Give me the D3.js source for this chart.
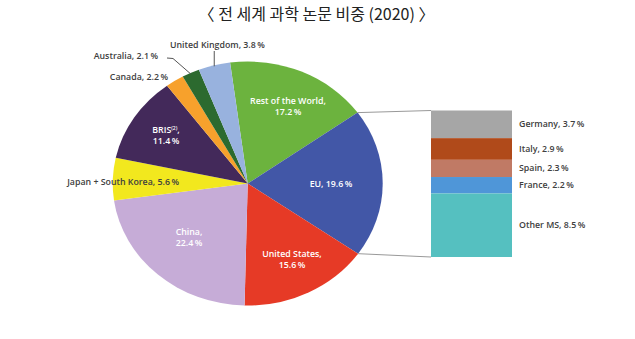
<!DOCTYPE html>
<html><head><meta charset="utf-8">
<script src="https://cdn.jsdelivr.net/npm/d3@7"></script>
<style>
html,body{margin:0;padding:0;background:#fff;}
svg{display:block;}
</style>
</head><body>
<svg id="c" width="635" height="339"></svg>
<script>
const title = "〈 전 세계 과학 논문 비중 (2020) 〉";
const regions = ["Rest of the World", "EU", "United States", "China", "Japan + South Korea", "BRIS", "Canada", "Australia", "United Kingdom"];
const shares = [17.2, 19.6, 15.6, 22.4, 5.6, 11.4, 2.2, 2.1, 3.8];
const regionColors = ["#6cb33e", "#4257a7", "#e63a26", "#c6acd7", "#f2e81e", "#43295a", "#f7a12c", "#2c6a2f", "#98b2de"];
const euMembers = ["Germany", "Italy", "Spain", "France", "Other MS"];
const euShares = [3.7, 2.9, 2.3, 2.2, 8.5];
const euColors = ["#a6a6a6", "#b04a1a", "#c07a65", "#4f96d8", "#55c0c0"];

const svg = d3.select("#c");
const cx = 247.7, cy = 183.5, R = 122, sx = 135 / 122;
const fontLab = "'Open Sans', 'DejaVu Sans', sans-serif";
const fs = 8.8;
const pct = v => v.toFixed(1) + "\u2009%";

svg.append("text").attr("x", 316.5).attr("y", 19.5).attr("text-anchor", "middle")
  .attr("font-family", "'Noto Sans CJK KR', sans-serif").attr("font-size", 16)
  .attr("font-weight", 400).attr("fill", "#222").text(title);

const start = -7.5 * Math.PI / 180;
const pie = d3.pie().sort(null).startAngle(start).endAngle(start + 2 * Math.PI);
const arcs = pie(shares);
const arc = d3.arc().innerRadius(0).outerRadius(R);

const g = svg.append("g").attr("transform", `translate(${cx},${cy}) scale(${sx},1)`);
g.selectAll("path").data(arcs).join("path")
  .attr("d", arc).attr("fill", (d, i) => regionColors[i]);

function edge(a, r = R) { return [cx + sx * r * Math.sin(a), cy - r * Math.cos(a)]; }

// Inset stacked bar for EU
const barX = 431, barW = 81;
const y = d3.scaleLinear().domain([0, d3.sum(euShares)]).range([110.5, 257]);
const cum = d3.cumsum(euShares);
const stackData = euShares.map((v, i) => ({ v, i, y0: i ? cum[i - 1] : 0, y1: cum[i] }));
svg.selectAll("rect.eu").data(stackData).join("rect").attr("class", "eu")
  .attr("x", barX).attr("width", barW)
  .attr("y", d => y(d.y0)).attr("height", d => y(d.y1) - y(d.y0))
  .attr("fill", d => euColors[d.i]);

// connector lines from EU slice
const eu = arcs[1];
const pTop = edge(eu.startAngle), pBot = edge(eu.endAngle);
svg.append("line").attr("x1", pTop[0]).attr("y1", pTop[1]).attr("x2", barX).attr("y2", y(0))
  .attr("stroke", "#999").attr("stroke-width", 1);
svg.append("line").attr("x1", pBot[0]).attr("y1", pBot[1]).attr("x2", barX).attr("y2", y(d3.sum(euShares)))
  .attr("stroke", "#999").attr("stroke-width", 1);

svg.selectAll("text.eul").data(stackData).join("text").attr("class", "eul")
  .attr("x", 519).attr("y", d => (y(d.y0) + y(d.y1)) / 2 + 3)
  .attr("font-family", fontLab).attr("font-size", fs).attr("font-weight", 600)
  .attr("fill", "#404040").text(d => euMembers[d.i] + ", " + pct(d.v));

// leader lines
const ukP = edge((arcs[8].startAngle + arcs[8].endAngle) / 2, R);
svg.append("line").attr("x1", ukP[0]).attr("y1", ukP[1] + 1).attr("x2", ukP[0]).attr("y2", 51)
  .attr("stroke", "#555").attr("stroke-width", 1);
const auP = edge((arcs[7].startAngle + arcs[7].endAngle) / 2, R);
svg.append("polyline").attr("points", `${auP[0]},${auP[1] + 1} 173,58.5 167,58`)
  .attr("fill", "none").attr("stroke", "#555").attr("stroke-width", 1);

function label(lines, x, yy, anchor, color) {
  const t = svg.append("text").attr("x", x).attr("y", yy).attr("text-anchor", anchor)
    .attr("font-family", fontLab).attr("font-size", fs).attr("font-weight", 600).attr("fill", color);
  lines.forEach((l, k) => {
    const ts = t.append("tspan").attr("x", x).attr("dy", k ? 10.5 : 0);
    if (Array.isArray(l)) {
      ts.text(l[0]);
      ts.append("tspan").attr("font-size", 5).attr("dy", -3).text(l[1]);
      ts.append("tspan").attr("dy", 3).text(l[2]);
    } else ts.text(l);
  });
}
// outside labels
label([regions[8] + ", " + pct(shares[8])], 170, 48, "start", "#404040");
label([regions[7] + ", " + pct(shares[7])], 158, 59, "end", "#404040");
label([regions[6] + ", " + pct(shares[6])], 168, 80, "end", "#404040");
label([regions[4] + ", " + pct(shares[4])], 179, 185, "end", "#404040");
// inside labels
label([regions[0] + ",", pct(shares[0])], 288, 104, "middle", "#fff");
label([regions[1] + ", " + pct(shares[1])], 331, 187, "middle", "#fff");
label([regions[2] + ",", pct(shares[2])], 292, 257, "middle", "#fff");
label([regions[3] + ",", pct(shares[3])], 189, 235, "middle", "#fff");
label([[regions[5], "(2)", ","], pct(shares[5])], 166, 133, "middle", "#fff");
</script>
</body></html>
